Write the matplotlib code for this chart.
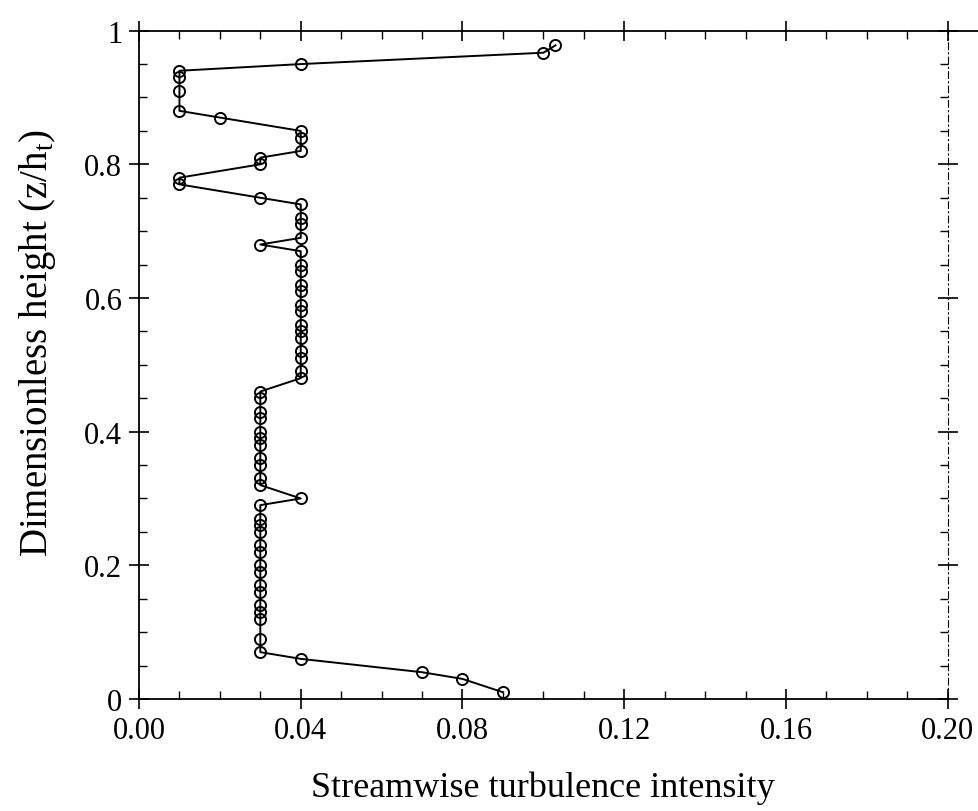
import matplotlib
matplotlib.use("Agg")
import matplotlib.pyplot as plt
from matplotlib.ticker import MultipleLocator, FuncFormatter
from matplotlib.lines import Line2D

# profile, from top to bottom along the line
intensity = [0.103, 0.100, 0.04, 0.01, 0.01, 0.01, 0.01, 0.02, 0.04, 0.04,
             0.04, 0.03, 0.03, 0.01, 0.01, 0.03, 0.04, 0.04, 0.04, 0.04,
             0.03, 0.04, 0.04, 0.04, 0.04, 0.04, 0.04, 0.04, 0.04, 0.04,
             0.04, 0.04, 0.04, 0.04, 0.04, 0.03, 0.03, 0.03, 0.03, 0.03,
             0.03, 0.03, 0.03, 0.03, 0.03, 0.03, 0.04, 0.03, 0.03, 0.03,
             0.03, 0.03, 0.03, 0.03, 0.03, 0.03, 0.03, 0.03, 0.03, 0.03,
             0.03, 0.03, 0.04, 0.07, 0.08, 0.09]
height = [0.978, 0.967, 0.95, 0.94, 0.93, 0.91, 0.88, 0.87, 0.85, 0.84,
          0.82, 0.81, 0.80, 0.78, 0.77, 0.75, 0.74, 0.72, 0.71, 0.69,
          0.68, 0.67, 0.65, 0.64, 0.62, 0.61, 0.59, 0.58, 0.56, 0.55,
          0.54, 0.52, 0.51, 0.49, 0.48, 0.46, 0.45, 0.43, 0.42, 0.40,
          0.39, 0.38, 0.36, 0.35, 0.33, 0.32, 0.30, 0.29, 0.27, 0.26,
          0.25, 0.23, 0.22, 0.20, 0.19, 0.17, 0.16, 0.14, 0.13, 0.12,
          0.09, 0.07, 0.06, 0.04, 0.03, 0.01]

x_ticks = [0.00, 0.04, 0.08, 0.12, 0.16, 0.20]
y_ticks = [0, 0.2, 0.4, 0.6, 0.8, 1]

plt.rcParams['font.family'] = ['Liberation Serif', 'DejaVu Serif']
plt.rcParams['mathtext.fontset'] = 'custom'
plt.rcParams['mathtext.rm'] = 'Liberation Serif'

fig = plt.figure(figsize=(9.79, 8.12), dpi=100)
ax = fig.add_axes([0.142, 0.138, 0.826, 0.823])

ax.plot(intensity, height, color='black', lw=1.4, marker='o', ms=8,
        mfc='none', mec='black', mew=1.4)

ax.set_xlim(0, 0.20)
ax.set_ylim(0, 1)
ax.set_xticks(x_ticks)
ax.set_yticks(y_ticks)
ax.xaxis.set_major_formatter(FuncFormatter(lambda v, p: f"{v:.2f}"))
ax.yaxis.set_major_formatter(FuncFormatter(lambda v, p: f"{v:g}"))
ax.xaxis.set_minor_locator(MultipleLocator(0.01))
ax.yaxis.set_minor_locator(MultipleLocator(0.05))

ax.tick_params(which='major', direction='inout', length=14, width=1.2,
               labelsize=22, top=True, right=True, pad=5)
ax.tick_params(which='minor', direction='in', length=6, width=1,
               top=True, right=True)

for s in ['left', 'bottom', 'top']:
    ax.spines[s].set_linewidth(1.3)
ax.spines['right'].set_linestyle((0, (6, 3, 1, 3)))
ax.spines['right'].set_linewidth(0.8)

# top rule runs on to the page edge
fig.add_artist(Line2D([0.968, 1.0], [0.961, 0.961], color='black', lw=1.3))

ax.set_xlabel('Streamwise turbulence intensity', fontsize=26, va='center')
ax.set_ylabel(r'Dimensionless height (z/h$_\mathrm{t}$)', fontsize=28, va='center')
ax.xaxis.set_label_coords(0.5, -0.132)
ax.yaxis.set_label_coords(-0.125, 0.535)

fig.savefig('out.png', dpi=100)
